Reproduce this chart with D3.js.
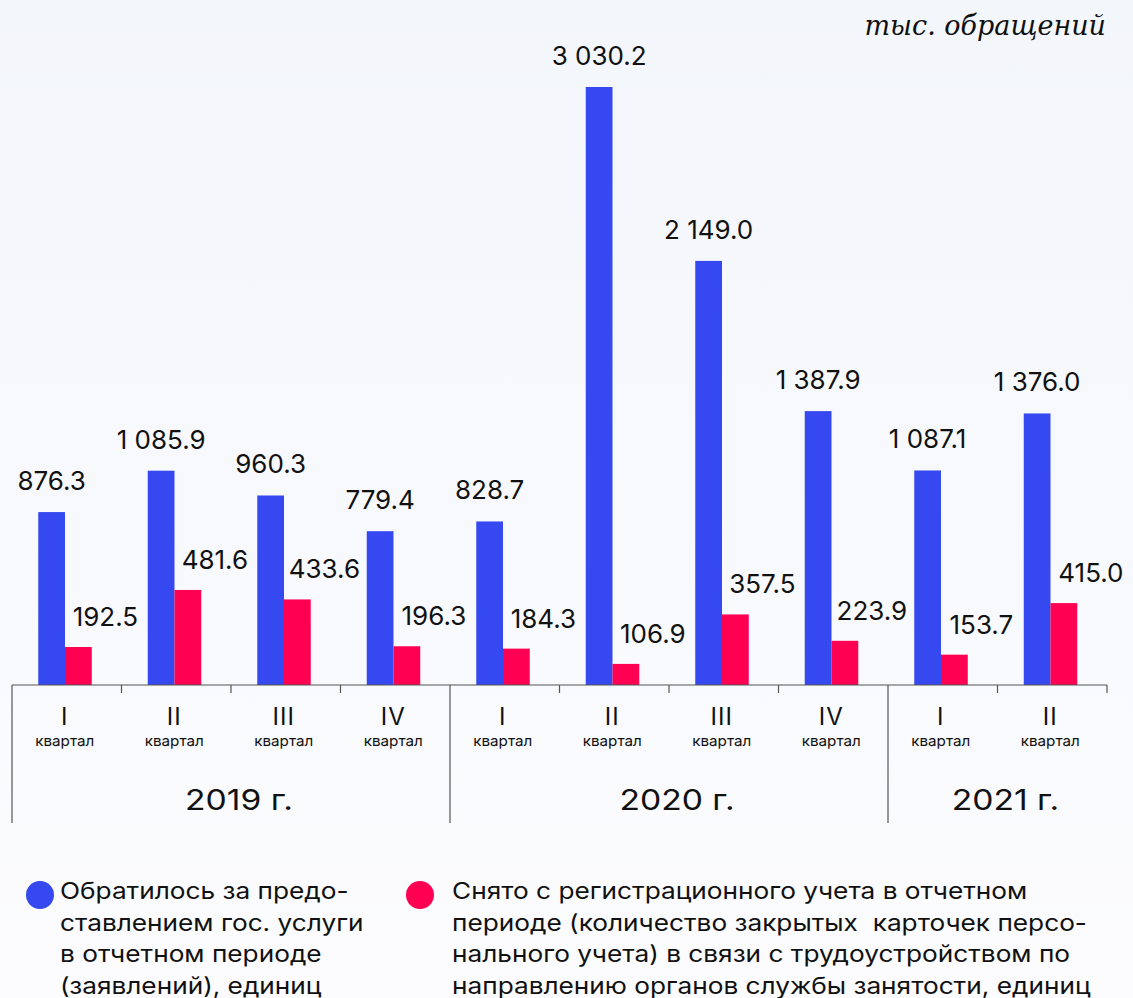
<!DOCTYPE html>
<html>
<head>
<meta charset="utf-8">
<script src="https://cdn.jsdelivr.net/npm/d3@7"></script>
<style>
  html, body { margin: 0; padding: 0; }
  body { width: 1133px; height: 998px; overflow: hidden; }
</style>
</head>
<body>
<div id="chart"></div>
<script>
// data
var quarters = ["I", "II", "III", "IV", "I", "II", "III", "IV", "I", "II"];
var applied = [876.3, 1085.9, 960.3, 779.4, 828.7, 3030.2, 2149.0, 1387.9, 1087.1, 1376.0];
var employed = [192.5, 481.6, 433.6, 196.3, 184.3, 106.9, 357.5, 223.9, 153.7, 415.0];
var years = ["2019 г.", "2020 г.", "2021 г."];
var yearQuarters = [4, 4, 2];
var legendBlue = ["Обратилось за предо-", "ставлением гос. услуги", "в отчетном периоде", "(заявлений), единиц"];
var legendRed = ["Снято с регистрационного учета в отчетном", "периоде (количество закрытых  карточек персо-", "нального учета) в связи с трудоустройством по", "направлению органов службы занятости, единиц"];
var unitLabel = "тыс. обращений";

var width = 1133, height = 998;
var blue = "#3649f0", red = "#ff0052";
var font = "Inter, 'Noto Sans', sans-serif";

var svg = d3.select("#chart").append("svg")
    .attr("width", width)
    .attr("height", height);

// soft background
var grad = svg.append("defs").append("linearGradient")
    .attr("id", "bg").attr("x1", 0).attr("y1", 0).attr("x2", 0).attr("y2", 1);
grad.append("stop").attr("offset", "0%").attr("stop-color", "#f3f6fb");
grad.append("stop").attr("offset", "100%").attr("stop-color", "#fcfcfe");
svg.append("rect").attr("width", width).attr("height", height).attr("fill", "url(#bg)");

var idx = d3.range(quarters.length);
var x = d3.scaleBand().domain(idx).range([12, 1107]).padding(0);
var sub = d3.scaleBand().domain(["a", "b"]).range([0, 53.5]).padding(0);
var y = d3.scaleLinear().domain([0, d3.max(applied)]).range([685, 87]);
var base = y(0);
var bw = x.bandwidth();

var fmt = d3.formatLocale({decimal: ".", thousands: "\u00a0", grouping: [3], currency: ["", ""]}).format(",.1f");

function groupX(i) { return x(i) + bw / 2 - 28.5; }

// bars
svg.append("g").selectAll("rect")
    .data(applied).enter().append("rect")
    .attr("x", function(d, i) { return groupX(i) + sub("a"); })
    .attr("y", function(d) { return y(d); })
    .attr("width", sub.bandwidth())
    .attr("height", function(d) { return base - y(d); })
    .attr("fill", blue);

svg.append("g").selectAll("rect")
    .data(employed).enter().append("rect")
    .attr("x", function(d, i) { return groupX(i) + sub("b"); })
    .attr("y", function(d) { return y(d); })
    .attr("width", sub.bandwidth())
    .attr("height", function(d) { return base - y(d); })
    .attr("fill", red);

// value labels
svg.append("g").selectAll("text")
    .data(applied).enter().append("text")
    .attr("x", function(d, i) { return groupX(i) + sub("a") + sub.bandwidth() / 2; })
    .attr("y", function(d) { return y(d) - 22; })
    .attr("text-anchor", "middle")
    .style("font-family", font)
    .style("font-size", "26px")
    .style("fill", "#111")
    .text(function(d) { return fmt(d); });

svg.append("g").selectAll("text")
    .data(employed).enter().append("text")
    .attr("x", function(d, i) { return groupX(i) + sub("b") + sub.bandwidth() / 2 + 27; })
    .attr("y", function(d) { return y(d) - 21; })
    .attr("text-anchor", "middle")
    .style("font-family", font)
    .style("font-size", "26px")
    .style("fill", "#111")
    .text(function(d) { return fmt(d); });

// axis
var axis = svg.append("g").attr("stroke", "#555").attr("stroke-width", 1.2);
axis.append("line").attr("x1", 12).attr("x2", 1107).attr("y1", base).attr("y2", base);

var yearStarts = [0];
yearQuarters.forEach(function(n, k) { yearStarts.push(yearStarts[k] + n); });

// boundaries: long at year edges, short ticks otherwise
d3.range(quarters.length + 1).forEach(function(i) {
    var xx = i < quarters.length ? x(i) : x(i - 1) + bw;
    var long = yearStarts.indexOf(i) >= 0 && i < quarters.length;
    axis.append("line")
        .attr("x1", xx).attr("x2", xx)
        .attr("y1", base).attr("y2", long ? 823 : base + 8);
});

var qLabels = svg.append("g").selectAll("g")
    .data(quarters).enter().append("g")
    .attr("transform", function(d, i) { return "translate(" + (x(i) + bw / 2 - 2) + ",0)"; });

qLabels.append("text")
    .attr("y", 725)
    .attr("text-anchor", "middle")
    .style("font-family", font)
    .style("font-size", "24px")
    .style("letter-spacing", "1px")
    .style("fill", "#111")
    .text(function(d) { return d; });

qLabels.append("text")
    .attr("y", 746)
    .attr("text-anchor", "middle")
    .attr("transform", "scale(1.05,1)")
    .style("font-family", font)
    .style("font-size", "14.5px")
    .style("fill", "#111")
    .text("квартал");

svg.append("g").selectAll("g")
    .data(years).enter().append("g")
    .attr("transform", function(d, k) {
        var a = x(yearStarts[k]);
        var b = x(yearStarts[k + 1] - 1) + bw;
        return "translate(" + ((a + b) / 2 + 8) + ",810) scale(1.16,1)";
    })
    .append("text")
    .attr("text-anchor", "middle")
    .style("font-family", font)
    .style("font-size", "29px")
    .style("fill", "#111")
    .text(function(d) { return d; });

// unit
svg.append("text")
    .attr("x", 1106)
    .attr("y", 35)
    .attr("text-anchor", "end")
    .style("font-family", "'DejaVu Serif', serif")
    .style("font-style", "italic")
    .style("font-size", "27px")
    .style("fill", "#111")
    .text(unitLabel);

// legend
function legend(cx, tx, color, lines) {
    svg.append("circle").attr("cx", cx).attr("cy", 895).attr("r", 14).attr("fill", color);
    svg.append("g").selectAll("g")
        .data(lines).enter().append("g")
        .attr("transform", function(d, i) { return "translate(" + tx + "," + (899 + i * 31.5) + ") scale(1.14,1)"; })
        .append("text")
        .attr("xml:space", "preserve")
        .style("white-space", "pre")
        .style("font-family", font)
        .style("font-size", "23px")
        .style("fill", "#111")
        .text(function(d) { return d; });
}
legend(40, 60, blue, legendBlue);
legend(420, 452, red, legendRed);
</script>
</body>
</html>
